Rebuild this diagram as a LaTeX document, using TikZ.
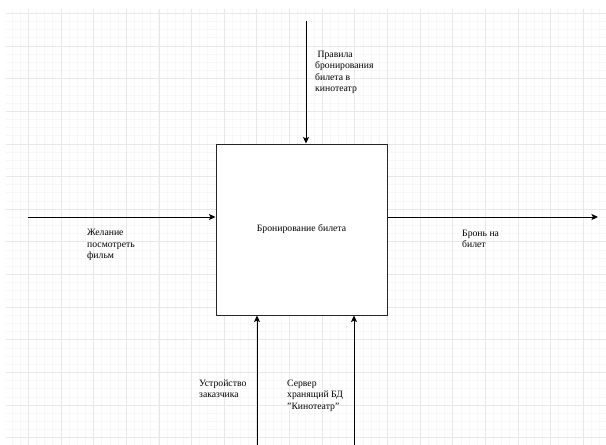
\documentclass[tikz,border=0pt]{standalone}
\usepackage{fontspec}
\setmainfont{Liberation Serif}
\usetikzlibrary{arrows.meta}
\definecolor{gridminor}{RGB}{247,247,247}
\definecolor{gridmajor}{RGB}{232,232,232}
\begin{document}
\begin{tikzpicture}[x=1pt,y=-1pt,
  lbl/.style={anchor=base west,inner sep=0pt,align=left,font=\fontsize{9.7}{11.6}\selectfont},
  arr/.style={line width=1pt,-{Stealth[length=6.5pt,width=6pt,inset=1.5pt]}},
  minorline/.style={draw=gridminor,line width=0.8pt},
  majorline/.style={draw=gridmajor,line width=0.8pt},
  funcbox/.style={draw=black!85,line width=1pt,fill=white,minimum width=171pt,minimum height=171pt,inner sep=0pt,font=\fontsize{9.7}{11.6}\selectfont}
  ]
\useasboundingbox (0,0) rectangle (606,445);
\fill[white] (0,0) rectangle (606,445);
\begin{scope}
  \clip (6,9) rectangle (606,445);
  \foreach \i in {0,...,74} \draw[minorline] (3.81+\i*8.1625,9) -- ++(0,436);
  \foreach \i in {0,...,54} \draw[minorline] (6,5.14+\i*8.1625) -- ++(600,0);
  \foreach \i in {0,...,18} \draw[majorline] (28.3+\i*32.65,9) -- ++(0,436);
  \foreach \i in {0,...,13} \draw[majorline] (6,13.3+\i*32.65) -- ++(600,0);
\end{scope}

\node[funcbox] (box) at (301.5,229.5) {Бронирование билета};

\coordinate (ctl) at (306,21);
\coordinate (inp) at (28,217);
\coordinate (outp) at (598,217);
\coordinate (mechA) at (257,445);
\coordinate (mechB) at (354,445);

\draw[arr] (ctl) -- (ctl |- box.north);
\draw[arr] (inp) -- (inp -| box.west);
\draw[arr] (outp -| box.east) -- (outp);
\draw[arr] (mechA) -- (mechA |- box.south);
\draw[arr] (mechB) -- (mechB |- box.south);

% base anchor of a multi-line node = baseline of its last line
\node[lbl] (lctl) at (315,91.8) {\hspace*{2.4pt}Правила\\бронирования\\билета в\\кинотеатр};
\node[lbl] (linp) at (87,258.7) {Желание\\посмотреть\\фильм};
\node[lbl] (lout) at (462,247.6) {Бронь на\\билет};
\node[lbl] (lmA) at (199,397.6) {Устройство\\заказчика};
\node[lbl] (lmB) at (287,409.2) {Сервер\\хранящий БД\\"Кинотеатр"};
\end{tikzpicture}
\end{document}
